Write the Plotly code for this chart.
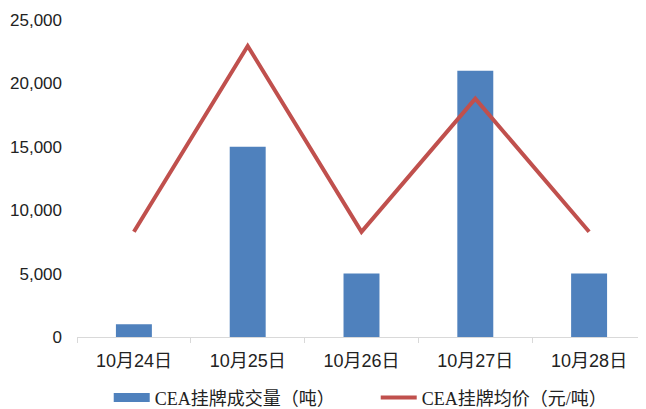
import plotly.graph_objects as go

categories = ["10月24日", "10月25日", "10月26日", "10月27日", "10月28日"]
volume = [1000, 15000, 5000, 21000, 5000]
price_line = [8300, 22950, 8300, 18800, 8300]
y_ticks = [0, 5000, 10000, 15000, 20000, 25000]
y_tick_text = ["0", "5,000", "10,000", "15,000", "20,000", "25,000"]
bar_name = "CEA挂牌成交量（吨）"
line_name = "CEA挂牌均价（元/吨）"

BLUE = "#4F81BD"
RED = "#C0504D"

fig = go.Figure()
fig.add_trace(go.Bar(x=categories, y=volume, name=bar_name, showlegend=False,
                     marker=dict(color=BLUE, line=dict(width=0))))
# legend-only entry with a wide rectangular swatch for the bars
fig.add_trace(go.Scatter(x=[None], y=[None], name=bar_name, mode="lines",
                         line=dict(color=BLUE, width=9)))
fig.add_trace(go.Scatter(x=categories, y=price_line, name=line_name, mode="lines",
                         line=dict(color=RED, width=4)))

font_main = "Liberation Sans, Arial, Noto Sans CJK SC, sans-serif"
fig.update_layout(
    width=638, height=401,
    margin=dict(l=69, r=0, t=12, b=72, autoexpand=False),
    paper_bgcolor="white", plot_bgcolor="white",
    bargap=0.684,
    showlegend=True,
    legend=dict(orientation="h", x=0.525, xanchor="center", y=-0.192, yanchor="middle",
                font=dict(family="Liberation Serif, Noto Sans CJK SC, serif", size=18, color="#222"),
                itemwidth=36, entrywidth=216, tracegroupgap=0),
    xaxis=dict(showline=True, linecolor="#D9D9D9", linewidth=1,
               ticks="outside", tickson="boundaries", ticklen=5, tickcolor="#D9D9D9",
               tickfont=dict(family=font_main, size=18, color="#222"),
               ticklabelstandoff=7,
               showgrid=False),
    yaxis=dict(range=[0, 25000], tickvals=y_ticks, ticktext=y_tick_text,
               showline=False, showgrid=False, zeroline=False,
               ticklabelstandoff=14,
               tickfont=dict(family=font_main, size=17, color="#222")),
)
fig.write_html("out.html")
